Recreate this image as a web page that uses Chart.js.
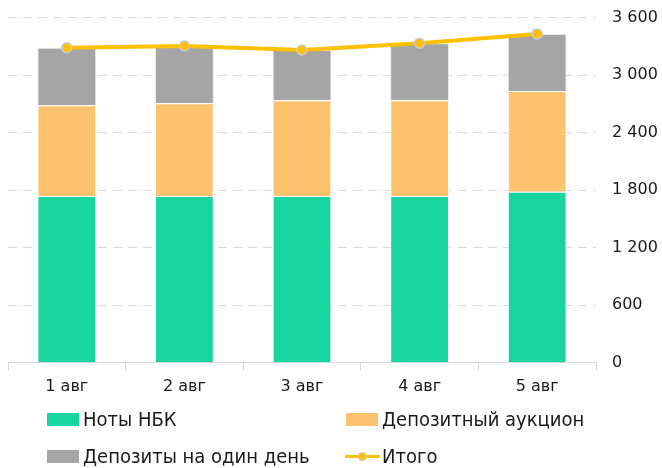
<!DOCTYPE html>
<html>
<head>
<meta charset="utf-8">
<script src="https://cdn.jsdelivr.net/npm/chart.js@4/dist/chart.umd.min.js"></script>
<style>
  html, body { margin: 0; padding: 0; background: #fff; overflow: hidden; }
  #wrap { position: relative; width: 662px; height: 468px; overflow: hidden; font-family: "DejaVu Sans", sans-serif; }
  #chartBox { position: absolute; left: 0; top: -8px; width: 662px; height: 410px; }
  #legend { position: absolute; left: 0; top: 400px; width: 662px; height: 68px; }
  .item { position: absolute; display: flex; align-items: center; font-family: "DejaVu Sans Condensed", "DejaVu Sans", sans-serif; font-size: 20px; color: #1a1a1a; white-space: nowrap; }
  .box { width: 32px; height: 13px; margin-right: 4px; }
  .lineKey { position: relative; width: 35px; height: 13px; margin-right: 2px; }
  .lineKey .ln { position: absolute; left: 0; right: 0; top: 5px; height: 3px; }
  .lineKey .dot { position: absolute; left: 13px; top: 2px; width: 9px; height: 9px; border-radius: 50%; }
</style>
</head>
<body>
<div id="wrap">
  <div id="chartBox"><canvas id="mainChart"></canvas></div>
  <div id="legend"></div>
</div>
<script>
// data
const categories = ["1 авг", "2 авг", "3 авг", "4 авг", "5 авг"];
const notesNBK = [1740, 1740, 1740, 1740, 1785];
const depositAuction = [946, 967, 998, 998, 1050];
const overnightDeposits = [600, 598, 524, 594, 595];
const totalValues = [3286, 3305, 3262, 3332, 3430];
const yTicks = [0, 600, 1200, 1800, 2400, 3000, 3600];

const GREEN = "#17D4A0";
const ORANGE = "#FCC36E";
const GREY = "#A5A5A5";
const YELLOW = "#FFC000";

function fmt(v) {
  return String(v).replace(/\B(?=(\d{3})+(?!\d))/g, " ");
}

const ctx = document.getElementById("mainChart");
const chart = new Chart(ctx, {
  type: "bar",
  data: {
    labels: categories,
    datasets: [
      { label: "Ноты НБК", data: notesNBK, backgroundColor: GREEN, borderColor: "rgba(255,255,255,0.6)", borderWidth: 1, stack: "s", order: 1 },
      { label: "Депозитный аукцион", data: depositAuction, backgroundColor: ORANGE, borderColor: "rgba(255,255,255,0.6)", borderWidth: 1, stack: "s", order: 1 },
      { label: "Депозиты на один день", data: overnightDeposits, backgroundColor: GREY, borderColor: "rgba(230,230,230,0.9)", borderWidth: 1, stack: "s", order: 1 },
      {
        type: "line", label: "Итого", data: totalValues, stack: "t", order: 0,
        borderColor: YELLOW, borderWidth: 4, backgroundColor: YELLOW,
        pointRadius: 5, pointBorderColor: "#c4ccda", pointBorderWidth: 1.5,
        pointBackgroundColor: YELLOW, tension: 0
      }
    ]
  },
  options: {
    responsive: true,
    maintainAspectRatio: false,
    animation: false,
    layout: { padding: { left: 8, right: 0, top: 3, bottom: 0 } },
    datasets: { bar: { categoryPercentage: 1, barPercentage: 0.5 } },
    plugins: { legend: { display: false }, tooltip: { enabled: false } },
    scales: {
      x: {
        stacked: true,
        grid: { display: true, drawOnChartArea: false, drawTicks: true, tickLength: 8, color: "#d9d9d9", offset: true },
        border: { display: true, color: "#d9d9d9", width: 1 },
        ticks: { color: "#1a1a1a", font: { family: "DejaVu Sans", size: 16 }, padding: 6 }
      },
      y: {
        stacked: true,
        position: "right",
        min: 0,
        max: 3600,
        afterBuildTicks: (axis) => { axis.ticks = yTicks.map((v) => ({ value: v })); },
        afterFit: (axis) => { axis.width = 66; },
        grid: { color: "#d9d9d9", lineWidth: 1, drawTicks: false },
        border: { display: false, dash: [9, 6] },
        ticks: {
          color: "#1a1a1a", font: { family: "DejaVu Sans", size: 16 },
          padding: 16, crossAlign: "near",
          callback: (v) => fmt(v)
        }
      }
    }
  }
});

// legend in two columns, built from the chart's datasets
const legendPos = [
  { left: 47, top: 7 }, { left: 346, top: 7 },
  { left: 47, top: 44 }, { left: 345, top: 44 }
];
const legendEl = document.getElementById("legend");
chart.data.datasets.forEach((ds, i) => {
  const item = document.createElement("div");
  item.className = "item";
  item.style.left = legendPos[i].left + "px";
  item.style.top = legendPos[i].top + "px";
  let key;
  if (ds.type === "line") {
    key = document.createElement("div");
    key.className = "lineKey";
    key.innerHTML = '<div class="ln" style="background:' + ds.borderColor + '"></div><div class="dot" style="background:' + ds.pointBackgroundColor + ';border:1px solid ' + ds.pointBorderColor + ';box-sizing:border-box"></div>';
  } else {
    key = document.createElement("div");
    key.className = "box";
    key.style.background = ds.backgroundColor;
  }
  const txt = document.createElement("span");
  txt.textContent = ds.label;
  item.appendChild(key);
  item.appendChild(txt);
  legendEl.appendChild(item);
});
</script>
</body>
</html>
